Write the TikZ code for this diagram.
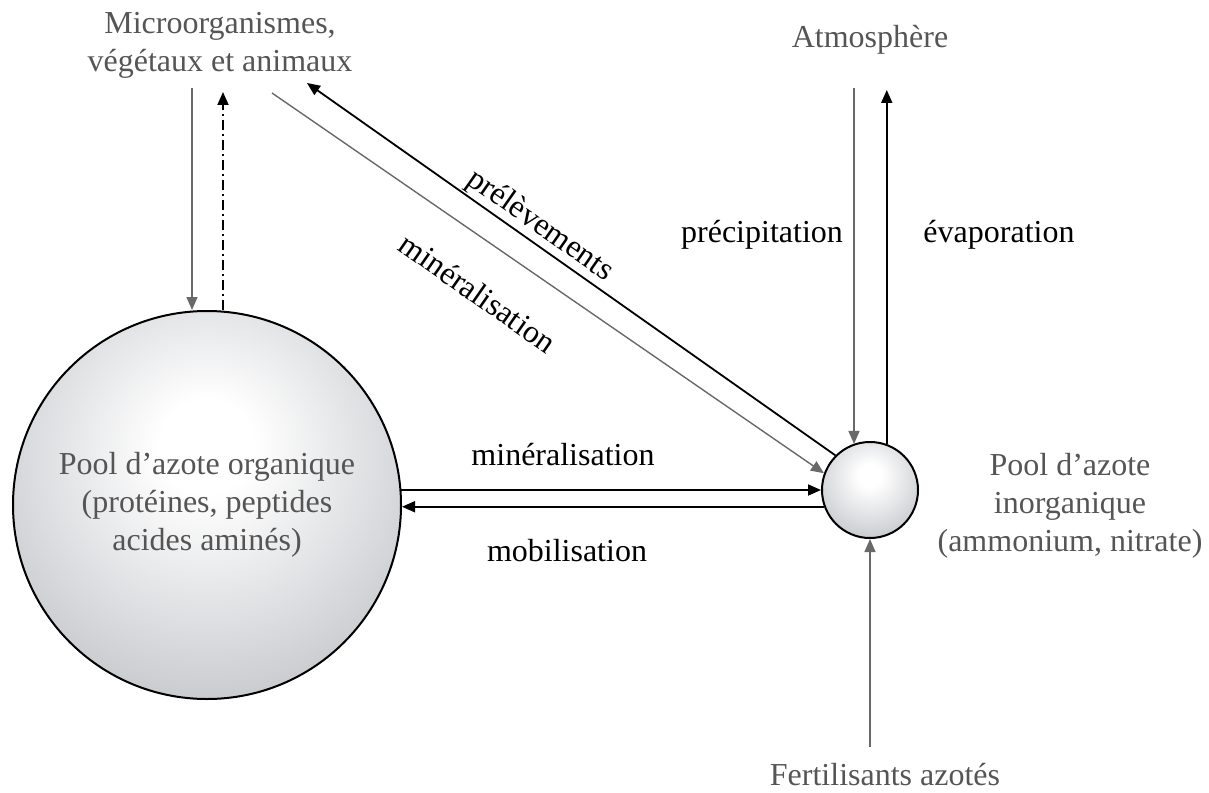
\documentclass[tikz,border=0pt]{standalone}
\usepackage{fontspec}
\setmainfont{Liberation Serif}
\usetikzlibrary{arrows.meta}
\definecolor{shadegray}{RGB}{160,163,170}
\definecolor{textgray}{RGB}{85,85,85}
\definecolor{linegray}{RGB}{105,105,105}
\pgfdeclareradialshading{ballshade}{\pgfpoint{0bp}{8bp}}{color(0bp)=(white); color(6bp)=(white); color(50bp)=(shadegray); color(100bp)=(shadegray)}
\tikzset{
  every node/.style={font=\fontsize{16pt}{19pt}\selectfont},
  pool/.style={circle, draw=black, line width=1pt, shading=ballshade, inner sep=0pt},
  labelgray/.style={text=textgray, align=center},
  labelblack/.style={text=black},
  blackarr/.style={draw=black, line width=0.9pt, -{Triangle[length=6.5pt,width=5.5pt]}},
  grayarr/.style={draw=linegray, line width=0.7pt, -{Triangle[length=6.5pt,width=5.5pt]}},
  dashdotline/.style={dash pattern=on 5pt off 2pt on 1pt off 2pt}
}
\begin{document}
\begin{tikzpicture}[x=0.5pt,y=-0.5pt]
\useasboundingbox (0,0) rectangle (1209,792);
% pools
\node[pool, minimum size=194pt, text=textgray, align=center] (org) at (207,505)
  {Pool d’azote organique\\(protéines, peptides\\acides aminés)};
\node[pool, minimum size=48pt] (inorg) at (870,490) {};
% outer labels
\node[labelgray] (inorgtxt) at (1070,506) {Pool d’azote\\inorganique\\(ammonium, nitrate)};
\node[labelgray] (micro) at (220,45) {Microorganismes,\\végétaux et animaux};
\node[labelgray] (atm) at (870,40) {Atmosphère};
\node[labelgray] (fert) at (885,775) {Fertilisants azotés};
% free ends
\coordinate (mdown) at (192,88);
\coordinate (mup) at (223,92);
\coordinate (mmin) at (272,93);
\coordinate (mpre) at (307,83);
\coordinate (aprec) at (854,88);
\coordinate (aevap) at (887,90);
\coordinate (ffert) at (870,747);
% connectors
\draw[grayarr] (mdown) -- (mdown |- org.north);
\draw[blackarr, dashdotline] (mup |- org.north) -- (mup);
\draw[blackarr] (inorg.135) -- (mpre);
\draw[grayarr] (mmin) -- (inorg.160);
\draw[blackarr] (inorg.west -| org.5) -- (inorg.west);
\draw[blackarr] (inorg.200) -- (inorg.200 -| org.east);
\draw[grayarr] (aprec) -- (aprec |- inorg.110);
\draw[blackarr] (inorg.70) -- (inorg.70 |- aevap);
\draw[grayarr] (ffert) -- (inorg.south);
% connector labels
\node[labelblack, rotate=-35] (lpre) at (540,226) {prélèvements};
\node[labelblack, rotate=-35] (lmin1) at (478,293) {minéralisation};
\node[labelblack] (lmin2) at (563,455) {minéralisation};
\node[labelblack] (lmob) at (567,551) {mobilisation};
\node[labelblack] (lprec) at (762,235) {précipitation};
\node[labelblack] (levap) at (999,235) {évaporation};
\end{tikzpicture}
\end{document}
